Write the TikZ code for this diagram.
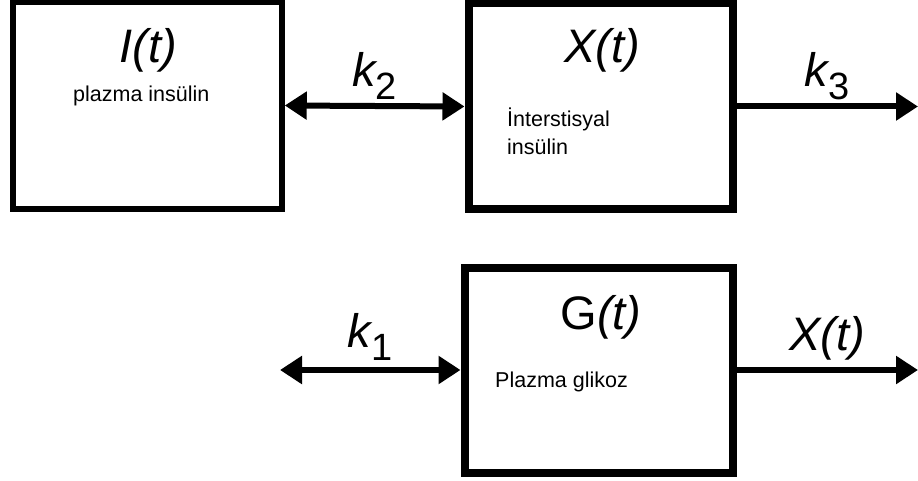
\documentclass[tikz,border=0pt]{standalone}
\usepackage{fontspec}
\setmainfont{Liberation Sans}
\usetikzlibrary{arrows.meta}

\newcommand{\lowidx}[1]{\raisebox{-13pt}{\fontsize{38}{38}\selectfont\upshape #1}}

\begin{document}
\begin{tikzpicture}[
  x=1pt, y=-1pt,
  block/.style={rectangle, draw=black, fill=white, inner sep=0pt},
  biglabel/.style={font=\fontsize{47}{47}\selectfont\itshape, inner sep=0pt, anchor=base},
  boxnote/.style={font=\fontsize{21.5}{28}\selectfont, inner sep=0pt, anchor=base west, align=left},
  link/.style={line width=6pt, -{Triangle[length=22pt,width=27pt]}},
  twoway/.style={line width=6pt, {Triangle[length=22pt,width=27pt]}-{Triangle[length=22pt,width=27pt]}}
]
\useasboundingbox (0,0) rectangle (918,481);

\node (plasma) [block, line width=5.5pt, minimum width=269pt, minimum height=207pt] at (147.5,105.5) {};
\node (inter) [block, line width=8pt, minimum width=264pt, minimum height=206pt] at (600.5,106.5) {};
\node (gluc) [block, line width=8pt, minimum width=268pt, minimum height=205pt] at (598.5,370) {};

\node (plasmaname) [biglabel] at (148.5,63) {I(t)};
\node (plasmanote) [boxnote] at (73,102) {plazma insülin};
\node (intername) [biglabel] at (602,63) {X(t)};
\node (internote) [boxnote] at (507,155) {İnterstisyal\\insülin};
\node (glucname) [biglabel] at (601,329) {\upshape G\itshape(t)};
\node (glucnote) [boxnote] at (495,387) {Plazma glikoz};

\coordinate (insout) at (918,106.5);
\coordinate (glucin) at (280,370);
\coordinate (glucout) at (918,370);

\draw [twoway] (plasma.east) -- (inter.west) node (ktwo) [biglabel, midway, yshift=19.5pt] {k\lowidx{2}};
\draw [link] (inter.east) -- (insout) node (kthree) [biglabel, midway, yshift=19.5pt] {k\lowidx{3}};
\draw [twoway] (glucin) -- (gluc.west) node (kone) [biglabel, midway, yshift=23pt] {k\lowidx{1}};
\draw [link] (gluc.east) -- (glucout) node (xout) [biglabel, midway, yshift=20pt] {X(t)};

\end{tikzpicture}
\end{document}
